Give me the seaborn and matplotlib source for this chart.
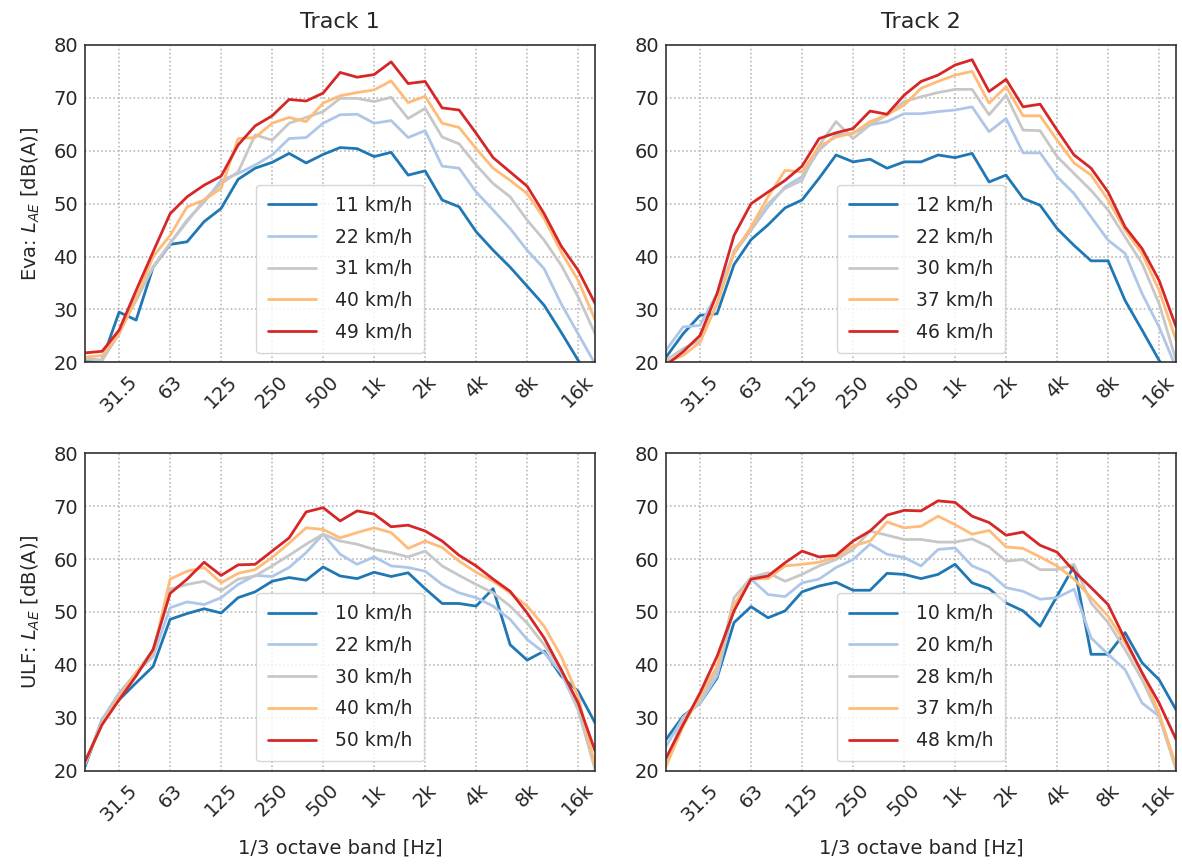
import matplotlib
matplotlib.use("Agg")
import matplotlib.pyplot as plt
import seaborn as sns
import pandas as pd

# 1/3 octave band centres (20 Hz ... 20 kHz)
bands = ["20", "25", "31.5", "40", "50", "63", "80", "100", "125", "160", "200", "250",
         "315", "400", "500", "630", "800", "1k", "1.25k", "1.6k", "2k", "2.5k", "3.15k",
         "4k", "5k", "6.3k", "8k", "10k", "12.5k", "16k", "20k"]
tick_labels = ["31.5", "63", "125", "250", "500", "1k", "2k", "4k", "8k", "16k"]

# Track 1 - Eva
eva_t1_speeds = ["11 km/h", "22 km/h", "31 km/h", "40 km/h", "49 km/h"]
eva_t1_11 = [20.1, 20.4, 29.5, 28.0, 38.0, 42.3, 42.8, 46.6, 49.1, 54.6, 56.7, 57.8, 59.5, 57.7, 59.3, 60.6,
             60.4, 58.9, 59.7, 55.4, 56.2, 50.7, 49.4, 44.7, 41.2, 38.0, 34.4, 30.8, 25.7, 20.4, 16.0]
eva_t1_22 = [20.7, 20.4, 26.0, 31.7, 38.0, 42.5, 46.9, 50.3, 54.4, 55.7, 57.3, 59.2, 62.3, 62.5, 65.2, 66.8,
             66.9, 65.2, 65.7, 62.5, 63.8, 57.1, 56.7, 52.2, 48.8, 45.3, 41.2, 37.7, 31.1, 25.4, 19.7]
eva_t1_31 = [20.7, 20.4, 25.4, 32.4, 38.0, 42.5, 46.6, 50.7, 53.8, 56.0, 63.0, 62.0, 65.2, 66.3, 67.4, 69.9,
             69.9, 69.3, 70.1, 66.1, 68.0, 62.6, 61.3, 57.3, 53.8, 51.3, 46.9, 43.1, 38.4, 32.4, 25.4]
eva_t1_40 = [21.0, 21.3, 25.4, 32.0, 40.0, 44.0, 49.4, 50.7, 52.9, 62.3, 62.5, 65.2, 66.3, 65.5, 69.0, 70.4,
             71.0, 71.5, 73.2, 69.1, 70.3, 65.2, 64.4, 60.4, 56.7, 54.4, 51.9, 47.2, 40.9, 35.5, 28.0]
eva_t1_49 = [21.8, 22.1, 26.1, 33.6, 40.9, 48.1, 51.3, 53.5, 55.2, 61.1, 64.7, 66.6, 69.7, 69.4, 70.9, 74.8,
             73.9, 74.4, 76.8, 72.7, 73.1, 68.1, 67.7, 63.3, 58.7, 56.0, 53.3, 48.1, 42.0, 37.4, 31.1]

# Track 2 - Eva
eva_t2_speeds = ["12 km/h", "22 km/h", "30 km/h", "37 km/h", "46 km/h"]
eva_t2_12 = [21.0, 25.4, 28.9, 29.2, 38.5, 43.2, 46.0, 49.2, 50.7, 54.8, 59.2, 57.9, 58.4, 56.7, 57.9, 57.9,
             59.2, 58.7, 59.5, 54.1, 55.4, 51.0, 49.7, 45.3, 42.1, 39.2, 39.2, 31.7, 26.1, 20.4, 15.0]
eva_t2_22 = [22.3, 26.7, 27.0, 33.0, 40.6, 45.0, 49.4, 53.2, 55.1, 60.1, 63.0, 63.3, 64.9, 65.5, 67.0, 67.0,
             67.4, 67.7, 68.3, 63.6, 66.1, 59.6, 59.6, 55.1, 51.9, 47.5, 43.1, 40.6, 33.0, 26.7, 19.0]
eva_t2_30 = [20.4, 22.6, 24.2, 31.1, 41.2, 45.0, 50.0, 52.9, 54.4, 61.0, 65.5, 62.3, 64.9, 66.8, 69.3, 70.2,
             71.0, 71.6, 71.6, 66.8, 70.5, 63.9, 63.8, 58.9, 55.7, 52.5, 48.8, 43.7, 38.7, 31.1, 20.4]
eva_t2_37 = [20.0, 21.3, 23.8, 31.1, 40.6, 45.6, 51.3, 56.3, 56.0, 60.8, 62.6, 63.3, 65.5, 66.8, 68.6, 71.8,
             73.1, 74.3, 75.0, 69.0, 72.1, 66.6, 66.6, 62.0, 57.7, 55.4, 50.7, 45.0, 40.6, 33.6, 24.2]
eva_t2_46 = [19.5, 22.0, 25.1, 33.0, 44.0, 50.0, 52.2, 54.4, 57.1, 62.3, 63.4, 64.2, 67.5, 66.9, 70.5, 73.1,
             74.3, 76.2, 77.2, 71.2, 73.5, 68.3, 68.8, 63.9, 59.2, 56.7, 52.2, 45.6, 41.5, 35.5, 26.7]

# Track 1 - ULF
ulf_t1_speeds = ["10 km/h", "22 km/h", "30 km/h", "40 km/h", "50 km/h"]
ulf_t1_10 = [20.8, 29.7, 33.4, 36.6, 39.7, 48.6, 49.7, 50.6, 49.8, 52.7, 53.8, 55.8, 56.5, 56.0, 58.5, 56.8,
             56.3, 57.5, 56.7, 57.4, 54.4, 51.6, 51.6, 51.1, 54.4, 43.8, 40.9, 42.6, 37.9, 35.0, 29.0]
ulf_t1_22 = [21.1, 29.7, 34.7, 38.5, 41.6, 50.8, 51.9, 51.4, 52.7, 55.2, 56.9, 56.7, 58.4, 61.2, 64.7, 60.9,
             59.0, 60.4, 58.7, 58.4, 57.7, 55.2, 53.6, 52.7, 51.1, 48.6, 44.8, 42.3, 38.5, 31.5, 20.8]
ulf_t1_30 = [21.5, 29.0, 34.0, 38.5, 42.9, 54.3, 55.2, 55.8, 54.0, 56.2, 56.8, 58.7, 60.7, 62.8, 64.7, 63.4,
             62.8, 61.8, 61.2, 60.4, 61.5, 58.7, 56.9, 55.2, 53.6, 51.1, 47.9, 43.8, 39.1, 31.5, 20.2]
ulf_t1_40 = [21.5, 29.0, 34.0, 38.5, 42.3, 56.2, 57.7, 58.4, 55.5, 57.3, 58.0, 60.3, 63.0, 65.9, 65.6, 64.0,
             65.0, 65.9, 65.0, 62.0, 63.4, 62.2, 59.6, 57.5, 55.8, 53.6, 51.1, 47.3, 41.6, 34.1, 20.8]
ulf_t1_50 = [21.8, 28.7, 33.4, 37.9, 42.9, 53.5, 56.2, 59.4, 56.9, 58.9, 59.0, 61.5, 64.0, 68.9, 69.7, 67.2,
             69.1, 68.5, 66.1, 66.4, 65.3, 63.4, 60.7, 58.7, 56.2, 53.9, 49.8, 45.1, 39.1, 32.8, 23.7]

# Track 2 - ULF
ulf_t2_speeds = ["10 km/h", "20 km/h", "28 km/h", "37 km/h", "48 km/h"]
ulf_t2_10 = [25.9, 30.3, 32.8, 37.5, 48.0, 51.0, 48.9, 50.2, 53.8, 54.9, 55.6, 54.1, 54.1, 57.3, 57.1, 56.3,
             57.1, 59.0, 55.5, 54.4, 51.7, 50.2, 47.3, 53.0, 58.7, 42.0, 42.0, 46.1, 40.4, 37.2, 31.5]
ulf_t2_20 = [24.6, 30.0, 32.8, 37.9, 50.8, 56.2, 53.3, 52.9, 55.5, 56.2, 58.4, 59.9, 62.8, 60.9, 60.3, 58.7,
             61.8, 62.1, 58.7, 57.4, 54.6, 53.9, 52.4, 52.7, 54.3, 45.1, 42.0, 39.1, 32.8, 30.3, 20.8]
ulf_t2_28 = [21.5, 30.0, 33.1, 39.1, 52.7, 56.5, 57.4, 55.8, 57.1, 58.7, 59.9, 61.8, 65.3, 64.5, 63.7, 63.7,
             63.2, 63.2, 63.8, 62.3, 59.6, 59.9, 58.0, 58.0, 59.0, 51.7, 48.0, 42.9, 37.2, 30.3, 20.2]
ulf_t2_37 = [20.8, 28.4, 34.1, 39.7, 51.4, 56.2, 56.3, 58.7, 59.0, 59.4, 60.4, 62.5, 63.4, 67.0, 65.9, 66.2,
             68.1, 66.5, 64.7, 65.4, 62.3, 62.0, 60.4, 58.7, 56.2, 52.7, 49.2, 44.2, 38.5, 30.9, 20.8]
ulf_t2_48 = [22.4, 28.7, 34.7, 41.6, 50.2, 56.2, 56.8, 59.3, 61.5, 60.4, 60.7, 63.4, 65.3, 68.3, 69.2, 69.1,
             71.0, 70.7, 68.1, 66.9, 64.5, 65.1, 62.6, 61.3, 57.7, 54.6, 51.4, 44.8, 38.5, 32.8, 25.9]

panels = [
    ("Eva", "Track 1", eva_t1_speeds, [eva_t1_11, eva_t1_22, eva_t1_31, eva_t1_40, eva_t1_49]),
    ("Eva", "Track 2", eva_t2_speeds, [eva_t2_12, eva_t2_22, eva_t2_30, eva_t2_37, eva_t2_46]),
    ("ULF", "Track 1", ulf_t1_speeds, [ulf_t1_10, ulf_t1_22, ulf_t1_30, ulf_t1_40, ulf_t1_50]),
    ("ULF", "Track 2", ulf_t2_speeds, [ulf_t2_10, ulf_t2_20, ulf_t2_28, ulf_t2_37, ulf_t2_48]),
]

colors = ["#1f77b4", "#aec7e8", "#c7c7c7", "#ffbb78", "#d62728"]

sns.set_style("whitegrid")
plt.rcParams["font.family"] = ["DejaVu Sans"]

fig, axes = plt.subplots(2, 2, figsize=(11.82, 8.64), dpi=100)
fig.subplots_adjust(left=0.072, right=0.995, top=0.948, bottom=0.108, wspace=0.139, hspace=0.286)

tick_pos = [bands.index(t) for t in tick_labels]

for ax, (vehicle, track, speeds, series) in zip(axes.flat, panels):
    rows = []
    for sp, vals in zip(speeds, series):
        for i, v in enumerate(vals):
            rows.append({"band": i, "level": v, "speed": sp})
    df = pd.DataFrame(rows)
    sns.lineplot(data=df, x="band", y="level", hue="speed", hue_order=speeds,
                 palette=colors, linewidth=2, ax=ax)
    ax.set_xlim(0, len(bands) - 1)
    ax.set_ylim(20, 80)
    ax.set_yticks([20, 30, 40, 50, 60, 70, 80])
    ax.set_xticks(tick_pos)
    ax.set_xticklabels(tick_labels, rotation=45)
    ax.tick_params(axis="y", labelsize=14, length=0, pad=5)
    ax.tick_params(axis="x", labelsize=14, length=0, pad=7)
    ax.grid(True, linestyle=":", color="#b0b0b0", linewidth=1.1)
    for s in ax.spines.values():
        s.set_color("#333333")
        s.set_linewidth(1.2)
    ax.set_xlabel("")
    ax.set_ylabel("")
    leg = ax.legend(loc="lower center", fontsize=13.5, frameon=True, handlelength=2.6,
                    labelspacing=0.68, borderpad=0.6, handletextpad=1.0)
    leg.get_frame().set_edgecolor("#cccccc")
    leg.get_frame().set_linewidth(1.0)

axes[0, 0].set_title("Track 1", fontsize=16, pad=12)
axes[0, 1].set_title("Track 2", fontsize=16, pad=12)
axes[0, 0].set_ylabel("Eva: $L_{AE}$ [dB(A)]", fontsize=14, labelpad=8)
axes[1, 0].set_ylabel("ULF: $L_{AE}$ [dB(A)]", fontsize=14, labelpad=8)
axes[1, 0].set_xlabel("1/3 octave band [Hz]", fontsize=14, labelpad=10)
axes[1, 1].set_xlabel("1/3 octave band [Hz]", fontsize=14, labelpad=10)

fig.savefig("out.png", dpi=100)
